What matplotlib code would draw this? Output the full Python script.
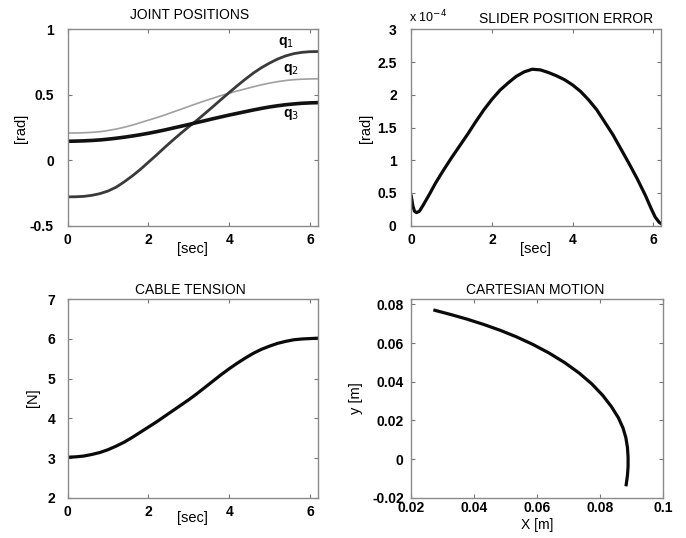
import matplotlib
matplotlib.use("Agg")
import matplotlib.pyplot as plt

plt.rcParams['font.family'] = ['Liberation Sans', 'DejaVu Sans']

# joint positions [rad] vs time [sec]
t_joint = [0, 0.2, 0.4, 0.6, 0.8, 1.0, 1.2, 1.4, 1.6, 1.8, 2.0, 2.2, 2.4, 2.6, 2.8, 3.0,
           3.2, 3.4, 3.6, 3.8, 4.0, 4.2, 4.4, 4.6, 4.8, 5.0, 5.2, 5.4, 5.6, 5.8, 6.0, 6.2]
q1 = [-0.280, -0.279, -0.276, -0.268, -0.255, -0.235, -0.206, -0.165, -0.120, -0.070, -0.015, 0.040,
      0.097, 0.152, 0.205, 0.256, 0.305, 0.357, 0.410, 0.464, 0.517, 0.569, 0.619, 0.666, 0.707, 0.742,
      0.773, 0.797, 0.814, 0.824, 0.829, 0.830]
q2 = [0.208, 0.208, 0.210, 0.213, 0.218, 0.227, 0.238, 0.252, 0.268, 0.287, 0.306, 0.325,
      0.345, 0.367, 0.389, 0.411, 0.433, 0.454, 0.474, 0.494, 0.512, 0.529, 0.545, 0.561, 0.576, 0.589,
      0.600, 0.609, 0.615, 0.619, 0.621, 0.622]
q3 = [0.145, 0.146, 0.148, 0.151, 0.155, 0.161, 0.168, 0.176, 0.185, 0.195, 0.206, 0.218,
      0.231, 0.245, 0.259, 0.273, 0.288, 0.302, 0.317, 0.331, 0.345, 0.358, 0.371, 0.384, 0.396, 0.407,
      0.416, 0.424, 0.430, 0.435, 0.438, 0.440]

# slider position error (x 1e-4 rad)
t_err = [0, 0.04, 0.08, 0.13, 0.2, 0.3, 0.45, 0.6, 0.8, 1.0, 1.2, 1.4, 1.6, 1.8, 2.0, 2.2, 2.4,
         2.6, 2.8, 3.0, 3.2, 3.4, 3.6, 3.8, 4.0, 4.2, 4.4, 4.6, 4.8, 5.0, 5.2, 5.4, 5.6, 5.8,
         5.95, 6.05, 6.15, 6.2]
err = [0.45, 0.30, 0.22, 0.20, 0.22, 0.32, 0.48, 0.65, 0.85, 1.04, 1.22, 1.40, 1.59, 1.77, 1.93, 2.07, 2.18,
       2.28, 2.35, 2.39, 2.38, 2.34, 2.29, 2.23, 2.15, 2.05, 1.92, 1.77, 1.58, 1.39, 1.17, 0.95, 0.72, 0.47,
       0.26, 0.13, 0.05, 0.03]

# cable tension [N]
t_ten = [0, 0.2, 0.4, 0.6, 0.8, 1.0, 1.2, 1.4, 1.6, 1.8, 2.0, 2.2, 2.4, 2.6, 2.8, 3.0,
         3.2, 3.4, 3.6, 3.8, 4.0, 4.2, 4.4, 4.6, 4.8, 5.0, 5.2, 5.4, 5.6, 5.8, 6.0, 6.2]
tension = [3.02, 3.03, 3.05, 3.09, 3.14, 3.21, 3.30, 3.40, 3.52, 3.65, 3.78, 3.91,
           4.05, 4.19, 4.33, 4.47, 4.62, 4.78, 4.94, 5.10, 5.25, 5.39, 5.52, 5.64, 5.74, 5.82,
           5.89, 5.94, 5.98, 6.00, 6.01, 6.02]

# cartesian path [m]
path_x = [0.0275, 0.0326, 0.0378, 0.0430, 0.0482, 0.0534, 0.0586, 0.0638, 0.0688, 0.0734, 0.0774,
          0.0808, 0.0836, 0.0858, 0.0873, 0.0882, 0.0887, 0.0889, 0.0889, 0.0887, 0.0883]
path_y = [0.0769, 0.0747, 0.0723, 0.0696, 0.0666, 0.0632, 0.0593, 0.0548, 0.0498, 0.0444, 0.0388,
          0.0330, 0.0271, 0.0214, 0.0160, 0.0110, 0.0060, 0.0010, -0.0040, -0.0085, -0.0133]

W, H = 686, 538
fig = plt.figure(figsize=(W / 100, H / 100), dpi=100)


def box(l, t, r, b):
    return [l / W, 1 - b / H, (r - l) / W, (b - t) / H]


def style(ax, ypad, xpad=5.5):
    for s in ax.spines.values():
        s.set_color('#8a8a8a')
        s.set_linewidth(1.0)
    ax.tick_params(direction='in', top=True, right=True, length=3, width=0.8,
                   color='#777777', labelsize=10)
    ax.tick_params(axis='x', pad=xpad)
    ax.tick_params(axis='y', pad=ypad)
    for lab in ax.get_xticklabels() + ax.get_yticklabels():
        lab.set_fontweight('bold')


def ftext(x, y, s, size=10.5, **kw):
    fig.text(x / W, 1 - y / H, s, ha='center', va='center', fontsize=size, **kw)


# joint positions
ax1 = fig.add_axes(box(67.7, 29.3, 318, 225.7))
ax1.plot(t_joint, q2, color='#a0a0a0', lw=1.2)
ax1.plot(t_joint, q1, color='#3a3a3a', lw=2.0)
ax1.plot(t_joint, q3, color='#111111', lw=2.6)
ax1.set_xlim(0, 6.2)
ax1.set_ylim(-0.5, 1)
ax1.set_xticks([0, 2, 4, 6])
ax1.set_yticks([-0.5, 0, 0.5, 1])
ax1.set_yticklabels(['-0.5', '0', '0.5', '1'])
ax1.text(5.4, 0.90, 'q$_1$', ha='center', va='center', fontsize=10, fontweight='bold')
ax1.text(5.52, 0.69, 'q$_2$', ha='center', va='center', fontsize=10, fontweight='bold')
ax1.text(5.52, 0.35, 'q$_3$', ha='center', va='center', fontsize=10, fontweight='bold')
ftext(190, 15, 'JOINT POSITIONS', size=10)
style(ax1, 10)
ftext(192, 249, '[sec]')
ftext(21, 128, '[rad]', rotation=90)

# slider position error
ax2 = fig.add_axes(box(411.3, 29.3, 661.3, 225.7))
ax2.plot(t_err, err, color='#0a0a0a', lw=2.3)
ax2.set_xlim(0, 6.2)
ax2.set_ylim(0, 3)
ax2.set_xticks([0, 2, 4, 6])
ax2.set_yticks([0, 0.5, 1, 1.5, 2, 2.5, 3])
ax2.set_yticklabels(['0', '0.5', '1', '1.5', '2', '2.5', '3'])
ftext(566, 19, 'SLIDER POSITION ERROR', size=10)
style(ax2, 10.5)
ftext(428, 17, 'x 10$^{-4}$', size=9)
ftext(535, 249, '[sec]')
ftext(366, 128, '[rad]', rotation=90)

# cable tension
ax3 = fig.add_axes(box(67.7, 299.3, 318, 497.7))
ax3.plot(t_ten, tension, color='#0a0a0a', lw=2.3)
ax3.set_xlim(0, 6.2)
ax3.set_ylim(2, 7)
ax3.set_xticks([0, 2, 4, 6])
ax3.set_yticks([2, 3, 4, 5, 6, 7])
ftext(190, 290, 'CABLE TENSION', size=10)
style(ax3, 9)
ftext(192, 518, '[sec]')
ftext(33, 398, '[N]', rotation=90)

# cartesian motion
ax4 = fig.add_axes(box(411.3, 299.3, 663, 497.7))
ax4.plot(path_x, path_y, color='#0a0a0a', lw=2.3)
ax4.set_xlim(0.02, 0.1)
ax4.set_ylim(-0.02, 0.0826)
ax4.set_xticks([0.02, 0.04, 0.06, 0.08, 0.1])
ax4.set_xticklabels(['0.02', '0.04', '0.06', '0.08', '0.1'])
ax4.set_yticks([-0.02, 0, 0.02, 0.04, 0.06, 0.08])
ax4.set_yticklabels(['-0.02', '0', '0.02', '0.04', '0.06', '0.08'])
ftext(535, 290, 'CARTESIAN MOTION', size=10)
style(ax4, 5.5, xpad=2.5)
ftext(537, 525, 'X [m]', size=10)
ftext(356, 398, 'y [m]', rotation=90)

fig.savefig('out.png', dpi=100)
